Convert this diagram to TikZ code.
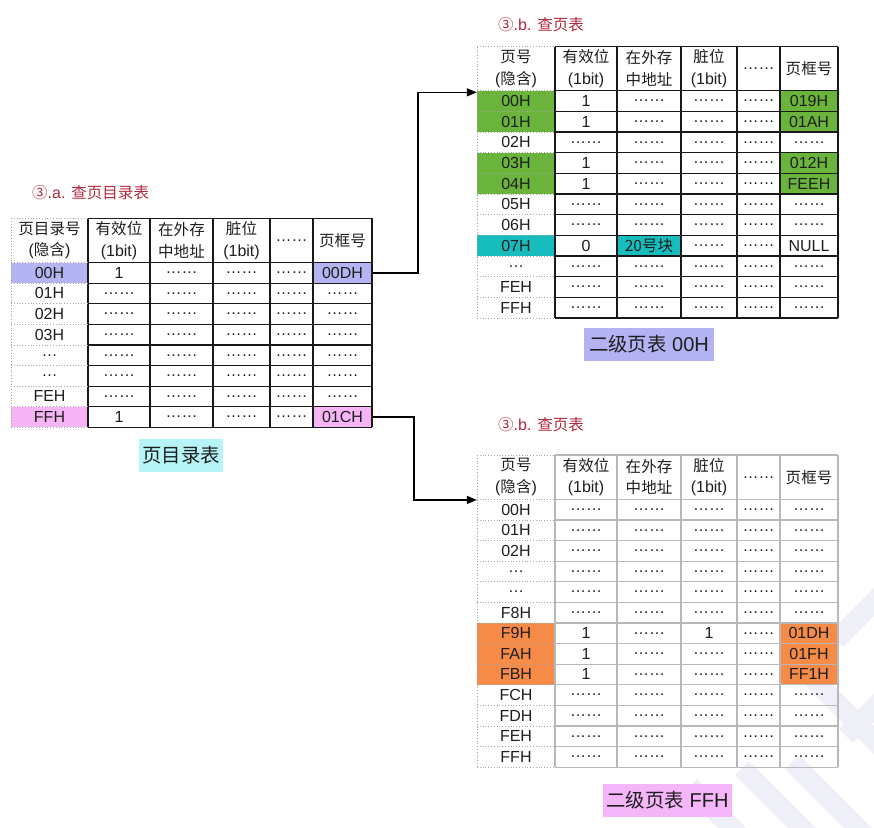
\documentclass[tikz,border=0pt]{standalone}
\usepackage{fontspec}
\setmainfont{Liberation Sans}
\newfontfamily\cjk[Scale=0.97]{Noto Sans CJK SC}
\usetikzlibrary{arrows.meta,calc}
\definecolor{lavc}{HTML}{B4B4F2}
\definecolor{pinkc}{HTML}{F5B5F5}
\definecolor{greenc}{HTML}{6AB43C}
\definecolor{tealc}{HTML}{17BCBC}
\definecolor{orangec}{HTML}{F68B47}
\definecolor{cyanl}{HTML}{B6F4F8}
\definecolor{lavl}{HTML}{B3B3F4}
\definecolor{pinkl}{HTML}{F4B6F8}
\definecolor{titlered}{HTML}{B02A3C}
\definecolor{textc}{HTML}{1E1E1E}
\definecolor{wmc}{HTML}{EFEFF7}
\newcommand\zh[1]{{\cjk #1}}
\newcommand\dd{……}
\newcommand\cellnode[5]{\node[cell, minimum width={(#3-#2)*1pt}] (#1) at ({(#2+#3)/2},#4) {#5};}
\newcommand\headnode[5]{\node[hcell, minimum width={(#3-#2)*1pt}] (#1) at ({(#2+#3)/2},#4) {#5};}
\newcommand\tabrow[9]{%
  \cellnode{#1-#2-1}{\xA}{\xB}{#3}{#4}%
  \cellnode{#1-#2-2}{\xB}{\xC}{#3}{#5}%
  \cellnode{#1-#2-3}{\xC}{\xD}{#3}{#6}%
  \cellnode{#1-#2-4}{\xD}{\xE}{#3}{#7}%
  \cellnode{#1-#2-5}{\xE}{\xF}{#3}{#8}%
  \cellnode{#1-#2-6}{\xF}{\xG}{#3}{#9}}
\newcommand\headrow[3]{%
  \headnode{#1-h-1}{\xA}{\xB}{#2}{#3}%
  \headnode{#1-h-2}{\xB}{\xC}{#2}{\zh{有效位}\\(1bit)}%
  \headnode{#1-h-3}{\xC}{\xD}{#2}{\zh{在外存}\\\zh{中地址}}%
  \headnode{#1-h-4}{\xD}{\xE}{#2}{\zh{脏位}\\(1bit)}%
  \headnode{#1-h-5}{\xE}{\xF}{#2}{\dd}%
  \headnode{#1-h-6}{\xF}{\xG}{#2}{\zh{页框号}}}
\begin{document}
\begin{tikzpicture}[x=1pt,y=-1pt,
  cell/.style={inner sep=0pt, minimum height=20pt, text=textc, font=\fontsize{16}{18}\selectfont},
  hcell/.style={inner sep=0pt, minimum height=40pt, align=center, text=textc, font=\fontsize{16}{21.7}\selectfont},
  gl/.style={draw=black!90, line width=1.2pt},
  gll/.style={draw=black!28, line width=1.2pt},
  fc/.style={draw=black!35, line width=0.8pt, dotted},
  arr/.style={draw=black, line width=1.5pt, -{Triangle[length=10pt,width=8pt]}},
  ttl/.style={inner sep=0pt, text=titlered, font=\fontsize{16}{18}\selectfont},
  lbl/.style={inner sep=0pt, minimum height=33pt, text=textc, font=\fontsize{20}{22}\selectfont}]
\useasboundingbox (0,0) rectangle (874,827);
% watermark
\begin{scope}
\clip (0,0) rectangle (874,827);
\draw[wmc, line width=20pt] (690,786) -- (745,841);
\draw[wmc, line width=20pt] (742,768) -- (815,841);
\draw[wmc, line width=20pt] (792,762) -- (871,841);
\draw[wmc, line width=20pt] (812,678) -- (884,750);
\draw[wmc, line width=20pt] (884,592) -- (836,640);
\draw[wmc, line width=20pt] (884,698) -- (846,736);
\end{scope}

% ===== left table =====
\def\xA{11}\def\xB{88}\def\xC{150}\def\xD{213}\def\xE{270}\def\xF{313}\def\xG{372}
\fill[lavc] (11,262.5) rectangle (88,283.1);
\fill[lavc] (313,262.5) rectangle (372,283.1);
\fill[pinkc] (11,406.7) rectangle (88,427.3);
\fill[pinkc] (313,406.7) rectangle (372,427.3);
\foreach \x in {88,150,213,270,313,372} \draw[gl] (\x,218.3) -- (\x,427.3);
\draw[gl] (88,218.3) -- (372,218.3);
\foreach \k in {0,...,8} {
  \draw[gl] (88,{262.5+\k*20.6}) -- (372,{262.5+\k*20.6});
  \draw[fc] (11,{262.5+\k*20.6}) -- (88,{262.5+\k*20.6});}
\draw[fc] (11,218.3) -- (88,218.3);
\draw[fc] (11,218.3) -- (11,427.3);
\headrow{L}{240.4}{\zh{页目录号}\\(\zh{隐含})}
\foreach \a/\b/\c/\d/\e/\f [count=\i] in {
  00H/1/\dd/\dd/\dd/00DH,
  01H/\dd/\dd/\dd/\dd/\dd,
  02H/\dd/\dd/\dd/\dd/\dd,
  03H/\dd/\dd/\dd/\dd/\dd,
  …/\dd/\dd/\dd/\dd/\dd,
  …/\dd/\dd/\dd/\dd/\dd,
  FEH/\dd/\dd/\dd/\dd/\dd,
  FFH/1/\dd/\dd/\dd/01CH} {
  \pgfmathsetmacro\yc{262.5+(\i-0.5)*20.6}
  \tabrow{L}{\i}{\yc}{\a}{\b}{\c}{\d}{\e}{\f}}

% ===== top right table =====
\def\xA{477}\def\xB{555}\def\xC{617}\def\xD{681}\def\xE{737}\def\xF{780}\def\xG{838}
\foreach \r in {1,2,4,5} {
  \fill[greenc] (477,{90.7+(\r-1)*20.66}) rectangle (555,{90.7+\r*20.66});
  \fill[greenc] (780,{90.7+(\r-1)*20.66}) rectangle (838,{90.7+\r*20.66});}
\fill[tealc] (477,{90.7+7*20.66}) rectangle (555,{90.7+8*20.66});
\fill[tealc] (617,{90.7+7*20.66}) rectangle (681,{90.7+8*20.66});
\foreach \x in {555,617,681,737,780,838} \draw[gl] (\x,46.7) -- (\x,318);
\draw[gl] (555,46.7) -- (838,46.7);
\foreach \k in {0,...,11} {
  \draw[gl] (555,{90.7+\k*20.66}) -- (838,{90.7+\k*20.66});
  \draw[fc] (477,{90.7+\k*20.66}) -- (555,{90.7+\k*20.66});}
\draw[fc] (477,46.7) -- (555,46.7);
\draw[fc] (477,46.7) -- (477,318);
\headrow{T}{68.7}{\zh{页号}\\(\zh{隐含})}
\foreach \a/\b/\c/\d/\e/\f [count=\i] in {
  00H/1/\dd/\dd/\dd/019H,
  01H/1/\dd/\dd/\dd/01AH,
  02H/\dd/\dd/\dd/\dd/\dd,
  03H/1/\dd/\dd/\dd/012H,
  04H/1/\dd/\dd/\dd/FEEH,
  05H/\dd/\dd/\dd/\dd/\dd,
  06H/\dd/\dd/\dd/\dd/\dd,
  07H/0/\zh{20号块}/\dd/\dd/NULL,
  …/\dd/\dd/\dd/\dd/\dd,
  FEH/\dd/\dd/\dd/\dd/\dd,
  FFH/\dd/\dd/\dd/\dd/\dd} {
  \pgfmathsetmacro\yc{90.7+(\i-0.5)*20.66}
  \tabrow{T}{\i}{\yc}{\a}{\b}{\c}{\d}{\e}{\f}}

% ===== bottom right table =====
\foreach \r in {7,8,9} {
  \fill[orangec] (477,{499.3+(\r-1)*20.6}) rectangle (555,{499.3+\r*20.6});
  \fill[orangec] (780,{499.3+(\r-1)*20.6}) rectangle (838,{499.3+\r*20.6});}
\foreach \x in {555,617,681,737,780,838} \draw[gll] (\x,455) -- (\x,767.1);
\draw[gll] (555,455) -- (838,455);
\foreach \k in {0,...,13} {
  \draw[gll] (555,{499.3+\k*20.6}) -- (838,{499.3+\k*20.6});
  \draw[fc] (477,{499.3+\k*20.6}) -- (555,{499.3+\k*20.6});}
\draw[fc] (477,455) -- (555,455);
\draw[fc] (477,455) -- (477,767.1);
\headrow{B}{477.2}{\zh{页号}\\(\zh{隐含})}
\foreach \a/\b/\c/\d/\e/\f [count=\i] in {
  00H/\dd/\dd/\dd/\dd/\dd,
  01H/\dd/\dd/\dd/\dd/\dd,
  02H/\dd/\dd/\dd/\dd/\dd,
  …/\dd/\dd/\dd/\dd/\dd,
  …/\dd/\dd/\dd/\dd/\dd,
  F8H/\dd/\dd/\dd/\dd/\dd,
  F9H/1/\dd/1/\dd/01DH,
  FAH/1/\dd/\dd/\dd/01FH,
  FBH/1/\dd/\dd/\dd/FF1H,
  FCH/\dd/\dd/\dd/\dd/\dd,
  FDH/\dd/\dd/\dd/\dd/\dd,
  FEH/\dd/\dd/\dd/\dd/\dd,
  FFH/\dd/\dd/\dd/\dd/\dd} {
  \pgfmathsetmacro\yc{499.3+(\i-0.5)*20.6}
  \tabrow{B}{\i}{\yc}{\a}{\b}{\c}{\d}{\e}{\f}}

% titles and labels
\node[ttl, anchor=west] (ta) at (32,193) {\zh{③}.a. \zh{查页目录表}};
\node[ttl, anchor=west] (tb1) at (498,25) {\zh{③}.b. \zh{查页表}};
\node[ttl, anchor=west] (tb2) at (498,425) {\zh{③}.b. \zh{查页表}};
\node[lbl, fill=cyanl, minimum width=84pt] (lab1) at (181,455.5) {\zh{页目录表}};
\node[lbl, fill=lavl, minimum width=130pt] (lab2) at (649,344.5) {\zh{二级页表} 00H};
\node[lbl, fill=pinkl, minimum width=129pt] (lab3) at (667.5,800.5) {\zh{二级页表} FFH};

% arrows
\draw[arr] (L-1-6.east) -- ++(46,0) |- ([yshift=-1.5pt]T-1-1.north west);
\draw[arr] (L-8-6.east) -- ++(42,0) |- ([yshift=-0.5pt]B-1-1.north west);
\end{tikzpicture}
\end{document}
